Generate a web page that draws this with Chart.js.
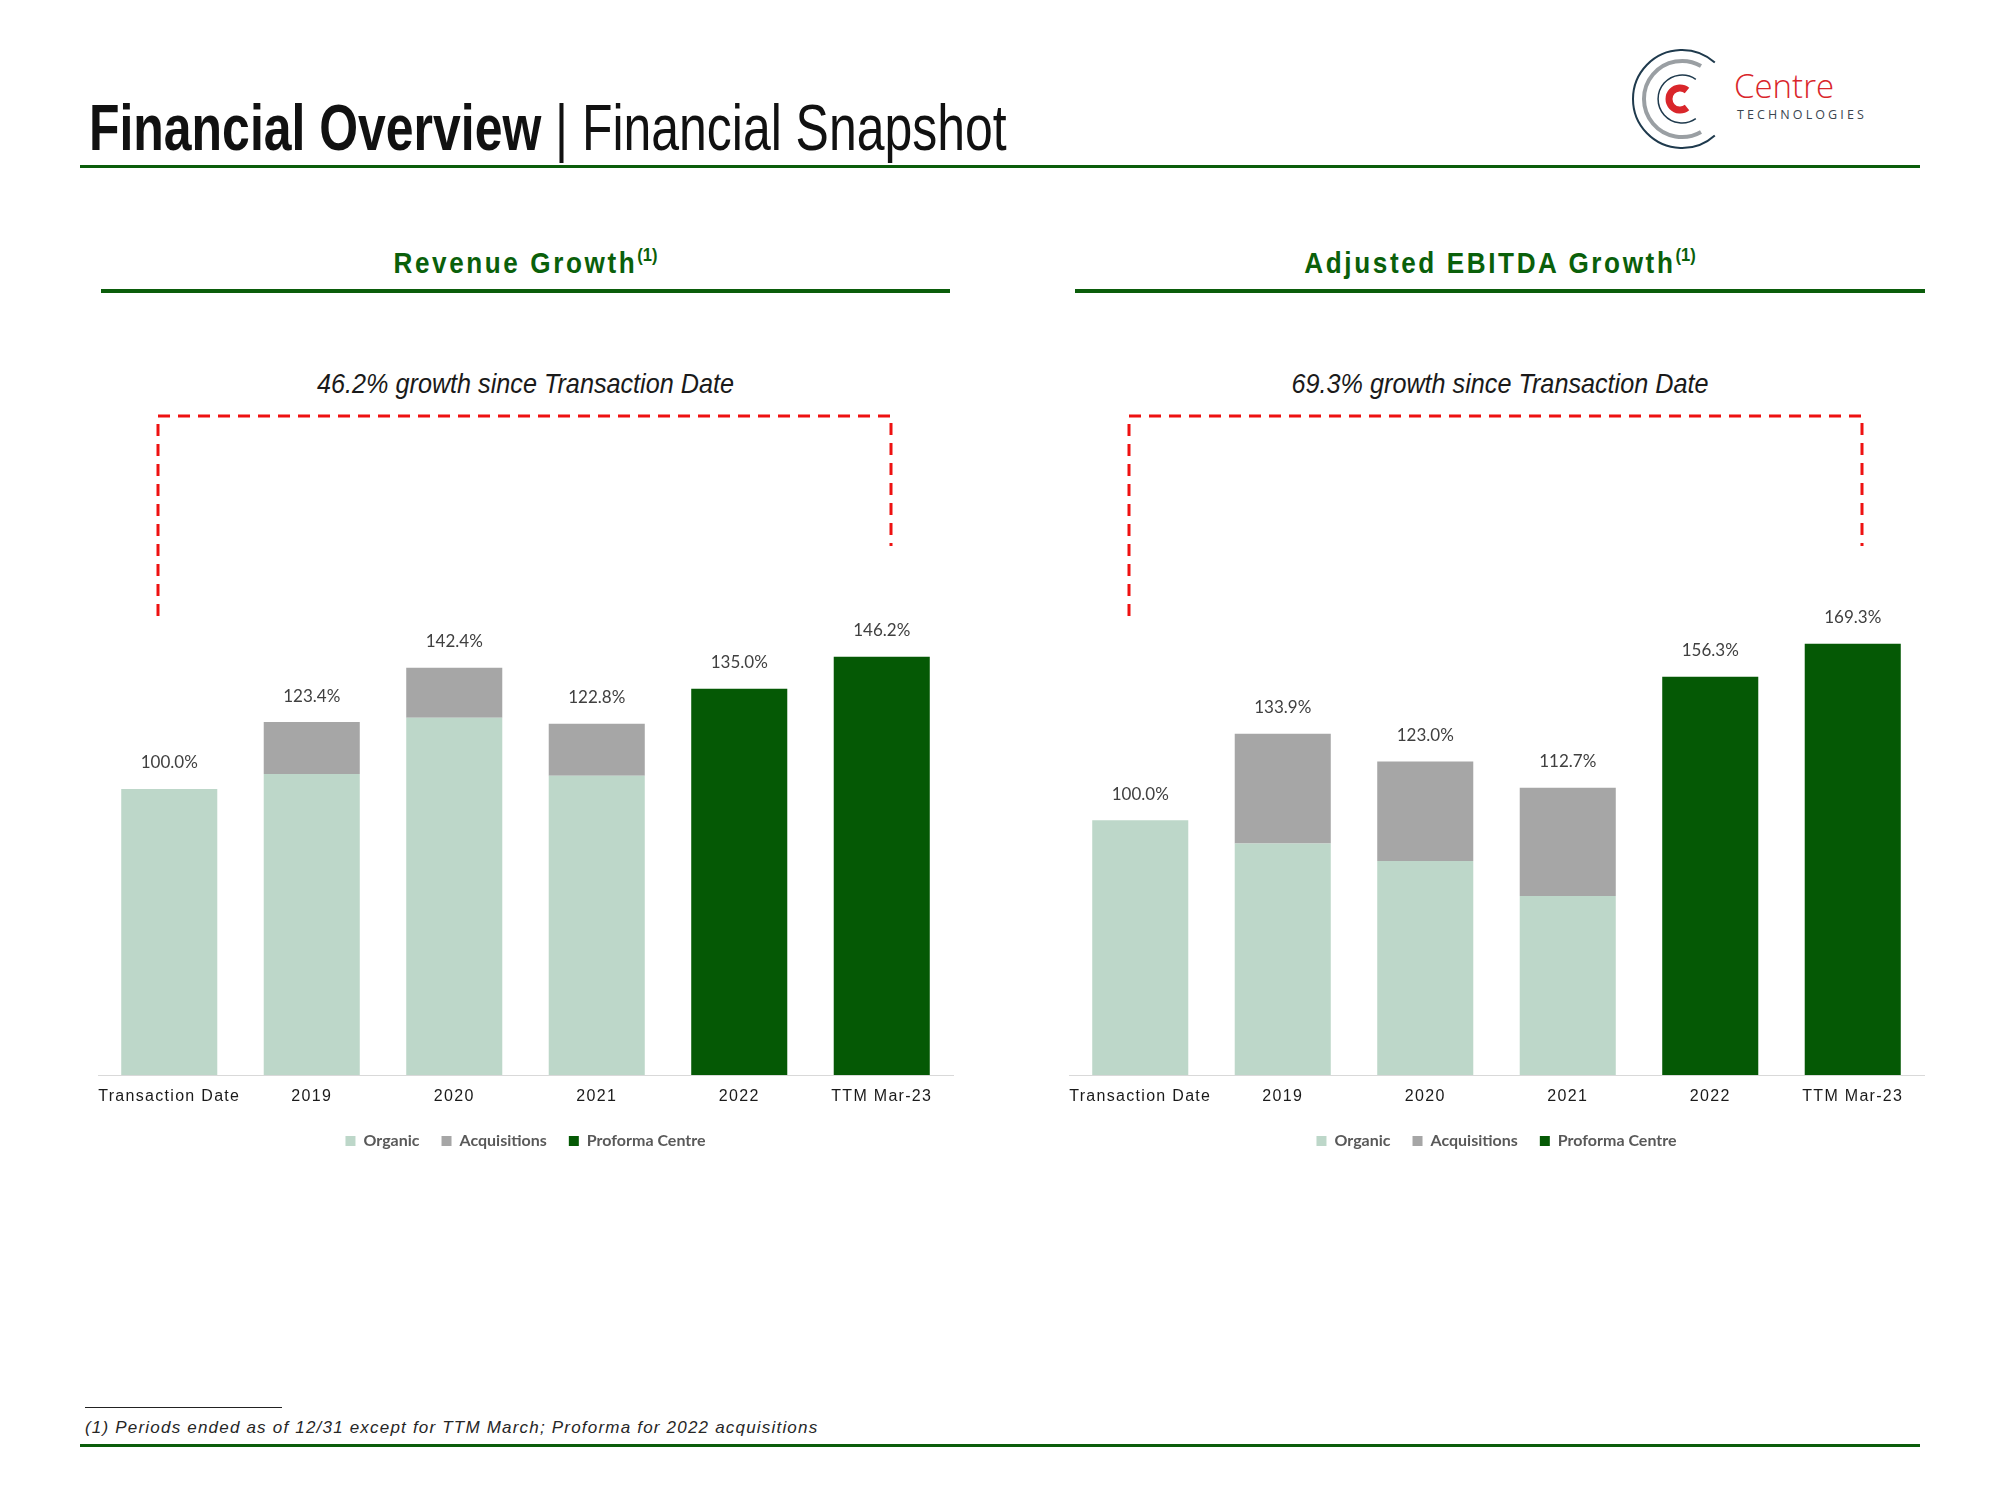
<!DOCTYPE html>
<html>
<head>
<meta charset="utf-8">
<script src="https://cdn.jsdelivr.net/npm/chart.js@4.4.0/dist/chart.umd.min.js"></script>
<style>
  body { margin: 0; width: 2000px; height: 1500px; background: #fff; position: relative; overflow: hidden; }
  .abs { position: absolute; }
  .narrow { font-family: "Liberation Sans", Arial, sans-serif; }
  #title { left: 89px; top: 96px; font-size: 64px; line-height: 1; color: #111; white-space: nowrap;
           transform: scaleX(0.78); transform-origin: left center; }
  .rule { background: #0b5d0b; }
  .head { font-size: 30px; line-height: 1; font-weight: bold; color: #0a600a; letter-spacing: 3px; text-align: center; white-space: nowrap;
          transform: scaleX(0.87); transform-origin: center; }
  .head sup { font-size: 19px; letter-spacing: 0; vertical-align: 12px; line-height: 0; }
  .sub { font-size: 28px; line-height: 1; font-style: italic; color: #1a1a1a; text-align: center; white-space: nowrap;
         transform: scaleX(0.9); transform-origin: center; }
  .box { position: absolute; top: 400px; width: 900px; height: 759px; }
  #foot { left: 85px; top: 1419px; font-size: 17px; line-height: 1; font-style: italic; letter-spacing: 1.2px; color: #262626; white-space: nowrap; }
</style>
</head>
<body>
<div id="title" class="abs narrow"><b>Financial Overview</b> | Financial Snapshot</div>
<div class="abs rule" style="left:80px;top:165px;width:1840px;height:3px;"></div>

<svg class="abs" style="left:1628px;top:45px;" width="110" height="110">
  <path d="M86.8 17.6 A49 49 0 1 0 86.8 90.4" fill="none" stroke="#1f3a4d" stroke-width="2"/>
  <path d="M73 21.1 A38 38 0 1 0 73 86.9" fill="none" stroke="#9a9fa3" stroke-width="4"/>
  <path d="M67.8 34.3 A24 24 0 1 0 67.8 73.7" fill="none" stroke="#1f3a4d" stroke-width="1.5"/>
  <path d="M59 45.5 A11 11 0 1 0 59 62.5" fill="none" stroke="#d9262b" stroke-width="7"/>
</svg>
<div class="abs" style="left:1734px;top:69px;font-family:'Open Sans',sans-serif;font-weight:300;font-size:33px;line-height:1;color:#d9262b;">Centre</div>
<div class="abs" style="left:1737px;top:109px;font-family:'Open Sans',sans-serif;font-size:12.5px;line-height:1;letter-spacing:3.1px;color:#3a4550;">TECHNOLOGIES</div>

<div class="abs head narrow" style="left:101px;top:248px;width:849px;">Revenue Growth<sup>(1)</sup></div>
<div class="abs rule" style="left:101px;top:289px;width:849px;height:4px;"></div>
<div class="abs head narrow" style="left:1075px;top:248px;width:850px;">Adjusted EBITDA Growth<sup>(1)</sup></div>
<div class="abs rule" style="left:1075px;top:289px;width:850px;height:4px;"></div>

<div class="abs sub narrow" style="left:101px;top:370px;width:849px;">46.2% growth since Transaction Date</div>
<div class="abs sub narrow" style="left:1075px;top:370px;width:850px;">69.3% growth since Transaction Date</div>

<div class="box" style="left:78px;"><canvas id="revChart"></canvas></div>
<div class="box" style="left:1049px;"><canvas id="ebitdaChart"></canvas></div>

<div class="abs" style="left:85px;top:1407px;width:197px;height:1px;background:#222;"></div>
<div id="foot" class="abs narrow">(1) Periods ended as of 12/31 except for TTM March; Proforma for 2022 acquisitions</div>
<div class="abs rule" style="left:80px;top:1444px;width:1840px;height:3px;"></div>

<script>
const categories = ['Transaction Date', '2019', '2020', '2021', '2022', 'TTM Mar-23'];

// revenue, % of transaction date
const revOrganic = [100.0, 105.2, 124.9, 104.6, null, null];
const revAcquisitions = [null, 18.2, 17.5, 18.2, null, null];
const revProforma = [null, null, null, null, 135.0, 146.2];
const revTotals = [100.0, 123.4, 142.4, 122.8, 135.0, 146.2];

// adjusted EBITDA, % of transaction date
const ebitdaOrganic = [100.0, 90.9, 84.0, 70.3, null, null];
const ebitdaAcquisitions = [null, 43.0, 39.0, 42.4, null, null];
const ebitdaProforma = [null, null, null, null, 156.3, 169.3];
const ebitdaTotals = [100.0, 133.9, 123.0, 112.7, 156.3, 169.3];

const totalLabels = {
    id: 'totalLabels',
    afterDatasetsDraw(chart, args, opts) {
        const {ctx, scales: {x, y}} = chart;
        ctx.save();
        ctx.font = '17px Lato';
        ctx.fillStyle = '#404040';
        ctx.textAlign = 'center';
        ctx.textBaseline = 'middle';
        opts.totals.forEach((v, i) => {
            ctx.fillText(v.toFixed(1) + '%', x.getPixelForValue(i), y.getPixelForValue(v) - 26);
        });
        ctx.restore();
    }
};

// red dashed bracket over the bars
const bracket = {
    id: 'bracket',
    afterDraw(chart) {
        const {ctx, chartArea} = chart;
        const l = chartArea.left + 60, r = chartArea.right - 62;
        ctx.save();
        ctx.strokeStyle = '#ee1111';
        ctx.lineWidth = 3;
        ctx.setLineDash([12, 8]);
        ctx.beginPath();
        ctx.moveTo(l, 216);
        ctx.lineTo(l, 16);
        ctx.lineTo(r, 16);
        ctx.lineTo(r, 146);
        ctx.stroke();
        ctx.restore();
    }
};

// spaced-out category labels
const tickSpacing = {
    id: 'tickSpacing',
    beforeDraw(chart) {
        const s = chart.scales.x;
        if (s._spaced) return;
        const orig = s.drawLabels.bind(s);
        s.drawLabels = (area) => {
            s.ctx.save();
            s.ctx.letterSpacing = '1.3px';
            orig(area);
            s.ctx.restore();
        };
        s._spaced = true;
    }
};

function makeChart(id, organic, acquisitions, proforma, totals, yMax) {
    return new Chart(document.getElementById(id).getContext('2d'), {
        type: 'bar',
        data: {
            labels: categories,
            datasets: [
                {label: 'Organic', data: organic, backgroundColor: '#bdd7c9'},
                {label: 'Acquisitions', data: acquisitions, backgroundColor: '#a6a6a6'},
                {label: 'Proforma Centre', data: proforma, backgroundColor: '#055905'}
            ]
        },
        options: {
            responsive: true,
            maintainAspectRatio: false,
            animation: false,
            datasets: {bar: {categoryPercentage: 1, barPercentage: 0.674}},
            layout: {padding: {left: 20, right: 25, top: 10, bottom: 0}},
            scales: {
                x: {
                    stacked: true,
                    grid: {display: false},
                    border: {color: '#d9d9d9', width: 1},
                    ticks: {color: '#1a1a1a', padding: 6, font: {family: 'Liberation Sans', size: 16, lineHeight: 1}}
                },
                y: {stacked: true, display: false, min: 0, max: yMax}
            },
            plugins: {
                legend: {
                    position: 'bottom',
                    labels: {boxWidth: 10, boxHeight: 10, padding: 22, color: '#595959',
                             font: {family: 'Lato', size: 16, weight: 'bold'}}
                },
                tooltip: {enabled: false},
                totalLabels: {totals: totals}
            }
        },
        plugins: [totalLabels, bracket, tickSpacing]
    });
}

makeChart('revChart', revOrganic, revAcquisitions, revProforma, revTotals, 232.5);
makeChart('ebitdaChart', ebitdaOrganic, ebitdaAcquisitions, ebitdaProforma, ebitdaTotals, 261);
</script>
</body>
</html>
